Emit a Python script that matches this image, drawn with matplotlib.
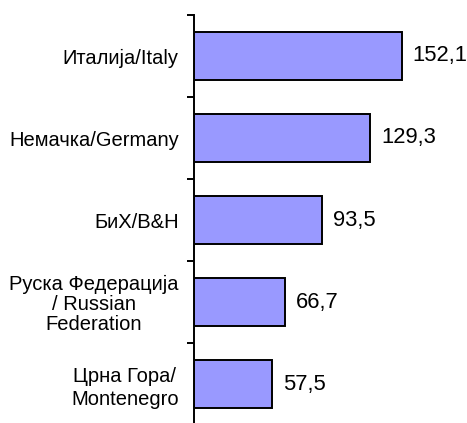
import matplotlib
matplotlib.use("Agg")
import matplotlib.pyplot as plt
import numpy as np

categories = ["Италија/Italy", "Немачка/Germany", "БиХ/B&H",
              "Руска Федерација\n/ Russian\nFederation", "Црна Гора/\nMontenegro"]
values = [152.1, 129.3, 93.5, 66.7, 57.5]
value_labels = ["152,1", "129,3", "93,5", "66,7", "57,5"]

plt.rcParams['font.family'] = ['Liberation Sans', 'DejaVu Sans']

fig = plt.figure(figsize=(4.67, 4.23), dpi=100)
ax = fig.add_axes([194/467, -2/423, 1 - 194/467, 410/423])

y = np.arange(len(categories))
ax.barh(y, values, height=0.585, color='#9999FF', edgecolor='black', linewidth=1.4)
ax.set_ylim(len(categories) - 0.5, -0.5)
ax.set_xlim(0, 200)

for yi, v, lab in zip(y, values, value_labels):
    ax.text(v + 8, yi, lab, va='center', ha='left', fontsize=15.8)

for s in ['top', 'right', 'bottom']:
    ax.spines[s].set_visible(False)
ax.spines['left'].set_linewidth(1.4)
ax.set_xticks([])

ax.set_yticks(y)
ax.set_yticklabels(categories, fontsize=14.5, multialignment='center')
ax.tick_params(axis='y', which='major', length=0, pad=11)
ax.set_yticks(np.arange(len(categories) + 1) - 0.5, minor=True)
ax.tick_params(axis='y', which='minor', length=5, width=1.4, direction='out')

for t in ax.get_yticklabels():
    if 'Montenegro' in t.get_text():
        t.set_linespacing(1.27)
    else:
        t.set_linespacing(1.05)

fig.savefig("out.png", dpi=100)
